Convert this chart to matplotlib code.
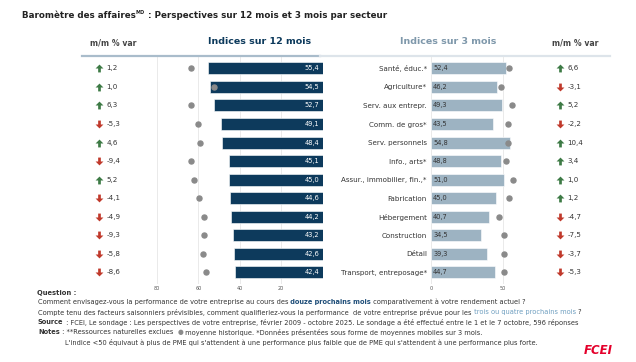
import matplotlib.pyplot as plt
import numpy as np
from matplotlib.path import Path
from matplotlib.transforms import blended_transform_factory

secteurs = ["Santé, éduc.*", "Agriculture*", "Serv. aux entrepr.", "Comm. de gros*",
            "Serv. personnels", "Info., arts*", "Assur., immobilier, fin.,*", "Fabrication",
            "Hébergement", "Construction", "Détail", "Transport, entreposage*"]
indice_12 = [55.4, 54.5, 52.7, 49.1, 48.4, 45.1, 45.0, 44.6, 44.2, 43.2, 42.6, 42.4]
moy_12 = [63.4, 52.4, 63.4, 60.2, 59.4, 63.4, 62.3, 59.9, 57.1, 57.1, 57.8, 56.5]
var_12 = [1.2, 1.0, 6.3, -5.3, 4.6, -9.4, 5.2, -4.1, -4.9, -9.3, -5.8, -8.6]
indice_3 = [52.4, 46.2, 49.3, 43.5, 54.8, 48.8, 51.0, 45.0, 40.7, 34.5, 39.3, 44.7]
moy_3 = [54.4, 48.8, 56.5, 53.5, 53.3, 51.9, 57.0, 54.0, 47.4, 50.7, 50.7, 50.7]
var_3 = [6.6, -3.1, 5.2, -2.2, 10.4, 3.4, 1.0, 1.2, -4.7, -7.5, -3.7, -5.3]

W, H = 636, 362
fig = plt.figure(figsize=(W / 100, H / 100), dpi=100)
plt.rcParams['font.family'] = 'DejaVu Sans'

navy = '#0d3a5c'
clair = '#9db3c2'
gris = '#8a8a8a'
vert = '#3d7a45'
rouge = '#c0392b'
texte = '#333333'

def box(x0, x1, ytop, ybot):
    return [x0 / W, 1 - ybot / H, (x1 - x0) / W, (ybot - ytop) / H]

y = np.arange(len(secteurs))
ax1 = fig.add_axes(box(157, 322.6, 57.2, 283.6))
ax2 = fig.add_axes(box(431, 520, 57.2, 283.6))

for ax in (ax1, ax2):
    ax.set_ylim(len(secteurs) - 0.4, -0.6)
    for s in ax.spines.values():
        s.set_visible(False)
    ax.tick_params(axis='x', length=0, labelsize=3.5, labelcolor='#555555', pad=2)
    ax.grid(axis='x', color='#e6e6e6', linewidth=0.6)
    ax.set_axisbelow(True)

# 12 mois
ax1.set_xlim(80, 0)
ax1.set_xticks([80, 60, 40, 20])
ax1.set_yticks([])
ax1.barh(y, indice_12, height=0.65, color=navy, edgecolor='white', linewidth=0.4)
ax1.scatter(moy_12, y, s=13, color=gris, zorder=3)
for i, v in enumerate(indice_12):
    ax1.text(1.5, i, f"{v:.1f}".replace('.', ','), ha='right', va='center',
             fontsize=4.8, color='white')

# 3 mois
ax2.set_xlim(0, 62)
ax2.set_xticks([0, 50])
ax2.set_yticks(y)
ax2.set_yticklabels(secteurs, fontsize=5.1, color=texte)
ax2.tick_params(axis='y', length=0, pad=3)
ax2.barh(y, indice_3, height=0.65, color=clair, edgecolor='white', linewidth=0.4)
ax2.scatter(moy_3, y, s=13, color=gris, zorder=3)
for i, v in enumerate(indice_3):
    ax2.text(1.5, i, f"{v:.1f}".replace('.', ','), ha='left', va='center',
             fontsize=4.8, color=texte)

# flèches m/m
fleche = Path([(-0.7, 0.0), (0, 0.7), (0.7, 0.0), (0.24, 0.0), (0.24, -0.7),
               (-0.24, -0.7), (-0.24, 0.0), (-0.7, 0.0)], closed=True)
fleche_bas = Path(fleche.vertices * [1, -1], closed=True)

def colonne(ax, xa, xt, vals):
    tr = blended_transform_factory(fig.transFigure, ax.transData)
    for i, v in enumerate(vals):
        ax.scatter([xa / W], [i], marker=fleche if v >= 0 else fleche_bas, s=32,
                   color=vert if v >= 0 else rouge, transform=tr, clip_on=False,
                   linewidths=0)
        ax.text(xt / W, i, f"{v:.1f}".replace('.', ','), transform=tr, ha='left',
                va='center', fontsize=5.1, color=texte, clip_on=False)

colonne(ax1, 99, 106.5, var_12)
colonne(ax2, 560, 567.5, var_3)

renderer = fig.canvas.get_renderer()

def ligne(x, yy, morceaux, size=4.8):
    for s, kw in morceaux:
        opts = dict(fontsize=size, va='center', color=texte)
        dy = kw.pop('dy', 0)
        opts.update(kw)
        t = fig.text(x / W, 1 - (yy + dy) / H, s, **opts)
        x += t.get_window_extent(renderer).width

# en-têtes
ligne(22, 15, [("Baromètre des affaires", dict(fontweight='bold', color='#222222')),
               ("MD", dict(fontweight='bold', color='#222222', fontsize=3.6, dy=-2)),
               (" : Perspectives sur 12 mois et 3 mois par secteur", dict(fontweight='bold', color='#222222'))],
      6.3)
fig.text(113 / W, 1 - 43 / H, "m/m % var", fontsize=5.6, fontweight='bold', color='#444444',
         ha='center', va='center')
fig.text(575 / W, 1 - 43 / H, "m/m % var", fontsize=5.6, fontweight='bold', color='#444444',
         ha='center', va='center')
fig.text(260 / W, 1 - 42 / H, "Indices sur 12 mois", fontsize=6.8, fontweight='bold', color=navy,
         ha='center', va='center')
fig.text(448 / W, 1 - 42 / H, "Indices sur 3 mois", fontsize=6.8, fontweight='bold', color='#7f98ab',
         ha='center', va='center')
fig.add_artist(plt.Line2D([82 / W, 320 / W], [1 - 56 / H] * 2, color='#a9bccb', linewidth=1.6))
fig.add_artist(plt.Line2D([320 / W, 610 / W], [1 - 56 / H] * 2, color='#dde4ea', linewidth=1.6))

# notes
ligne(37, 293, [("Question :", dict(fontweight='bold'))], 4.9)
ligne(38, 302, [("Comment envisagez-vous la performance de votre entreprise au cours des", {}),
                (" douze prochains mois", dict(color='#1f4e79', fontweight='bold')),
                (" comparativement à votre rendement actuel ?", {})])
ligne(38, 312, [("Compte tenu des facteurs saisonniers prévisibles, comment qualifieriez-vous la performance  de votre entreprise prévue pour les", {}),
                (" trois ou quatre prochains mois", dict(color='#6f9fc0')),
                (" ?", {})])
ligne(38, 322, [("Source", dict(fontweight='bold')),
                (" : FCEI, Le sondage : Les perspectives de votre entreprise, février 2009 - octobre 2025. Le sondage a été effectué entre le 1 et le 7 octobre, 596 réponses", {})])
ligne(38, 332, [("Notes", dict(fontweight='bold')),
                (" : **Ressources naturelles exclues  ", {}),
                ("●", dict(color=gris)),
                (" moyenne historique. *Données présentées sous forme de moyennes mobiles sur 3 mois.", {})])
ligne(65, 342, [("L'indice <50 équivaut à plus de PME qui s'attendent à une performance plus faible que de PME qui s'attendent à une performance plus forte.", {})])

fig.text(598 / W, 1 - 351 / H, "FCEI", fontsize=8.5, fontweight='bold', fontstyle='italic',
         color='#e4002b', ha='center', va='center')

fig.savefig("out.png", dpi=100)
